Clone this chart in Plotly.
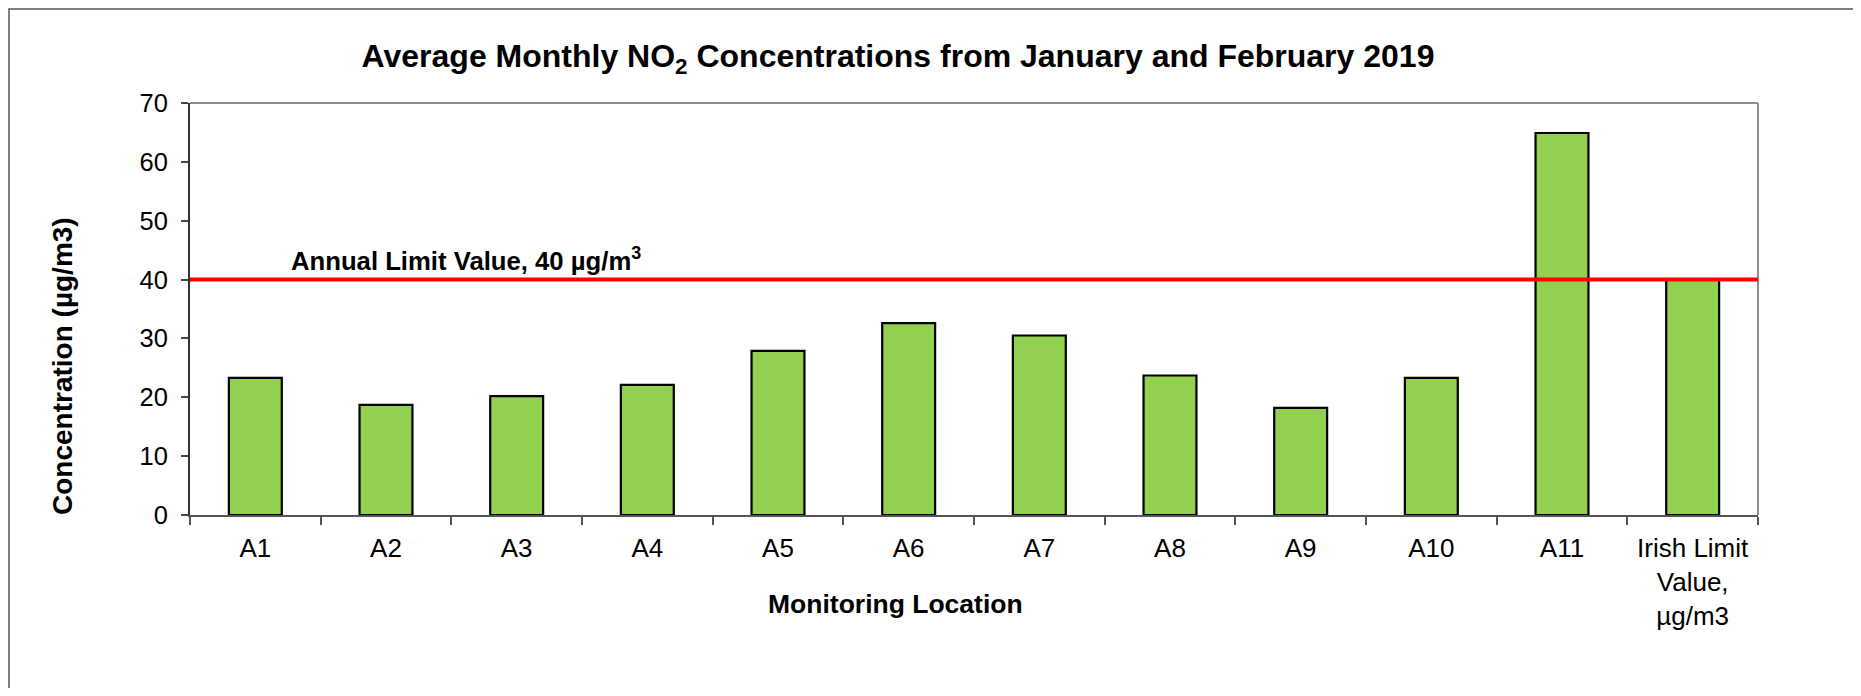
import plotly.graph_objects as go

categories = ["A1", "A2", "A3", "A4", "A5", "A6", "A7", "A8", "A9", "A10", "A11", "Irish Limit Value"]
tick_labels = ["A1", "A2", "A3", "A4", "A5", "A6", "A7", "A8", "A9", "A10", "A11",
               "Irish Limit<br>Value,<br>µg/m3"]
no2_values = [23.3, 18.7, 20.2, 22.1, 27.9, 32.6, 30.5, 23.7, 18.2, 23.3, 64.9, 40.0]
annual_limit = 40
y_ticks = [0, 10, 20, 30, 40, 50, 60, 70]

# The page body has an 8px margin, so the figure is drawn 8px in from the window edge.
OFF = 8
W, H = 1861 - 2 * OFF, 696 - 2 * OFF
L, R, T, B = 190 - OFF, 1758 - OFF, 103 - OFF, 515 - OFF  # plot area in figure pixels
pw, ph = R - L, B - T


def px_x(x):
    return (x - OFF - L) / pw


def px_y(y):
    return (B - (y - OFF)) / ph


FONT = "Liberation Sans, Arial, sans-serif"

fig = go.Figure()
fig.add_trace(go.Bar(
    x=categories, y=no2_values,
    marker=dict(color="#92D050", line=dict(color="#000000", width=2.2)),
    showlegend=False, hoverinfo="x+y",
))

fig.update_layout(
    width=W, height=H,
    margin=dict(l=L, r=W - R, t=T, b=H - B, pad=0),
    paper_bgcolor="white", plot_bgcolor="white",
    bargap=0.595,
    font=dict(family=FONT, color="#000000", size=26),
    title=dict(
        text="<b>Average Monthly NO<sub>2</sub> Concentrations from January and February 2019</b>",
        xref="container", yref="container",
        x=(898 - OFF) / W, xanchor="center", y=1 - (56 - OFF) / H, yanchor="middle",
        font=dict(family=FONT, size=32, color="#000000"),
    ),
    xaxis=dict(
        type="category", tickvals=categories, ticktext=tick_labels,
        tickson="boundaries", ticks="outside", ticklen=8, tickcolor="#555555",
        tickwidth=1.5, showline=True, linecolor="#555555", linewidth=2,
        showgrid=False, zeroline=False, tickfont=dict(size=26, color="#000000"),
        ticklabelstandoff=9,
        range=[-0.5, len(categories) - 0.5],
    ),
    yaxis=dict(
        range=[0, 70], tickvals=y_ticks, ticks="outside", ticklen=7,
        tickcolor="#444444", tickwidth=1.5, showline=True, linecolor="#333333",
        linewidth=2, showgrid=False, zeroline=False,
        tickfont=dict(size=25.5, color="#000000"),
        ticklabelstandoff=8,
    ),
)

shapes = [
    # plot area top and right border
    dict(type="line", xref="paper", yref="paper", x0=0, x1=1, y0=1, y1=1,
         line=dict(color="#8c8c8c", width=2)),
    dict(type="line", xref="paper", yref="paper", x0=1, x1=1, y0=0, y1=1,
         line=dict(color="#8c8c8c", width=2)),
    # annual limit line
    dict(type="line", xref="paper", yref="y", x0=0, x1=1, y0=annual_limit, y1=annual_limit,
         line=dict(color="#FF0000", width=4), layer="above"),
    # outer chart frame (left and top edges visible)
    dict(type="rect", xref="paper", yref="paper",
         x0=px_x(9), x1=px_x(1900), y0=px_y(740), y1=px_y(9),
         line=dict(color="#555555", width=1.5), fillcolor="rgba(0,0,0,0)"),
]
fig.update_layout(shapes=shapes)

fig.add_annotation(
    text="<b>Annual Limit Value, 40 µg/m<sup>3</sup></b>",
    xref="paper", yref="paper", x=px_x(289), y=px_y(259),
    xanchor="left", yanchor="middle", showarrow=False,
    font=dict(family=FONT, size=25.7, color="#000000"),
)
fig.add_annotation(
    text="<b>Monitoring Location</b>",
    xref="paper", yref="paper", x=px_x(895), y=px_y(604),
    xanchor="center", yanchor="middle", showarrow=False,
    font=dict(family=FONT, size=26.5, color="#000000"),
)
fig.add_annotation(
    text="<b>Concentration (µg/m3)</b>",
    xref="paper", yref="paper", x=px_x(62), y=px_y(366),
    xanchor="center", yanchor="middle", textangle=-90, showarrow=False,
    font=dict(family=FONT, size=28, color="#000000"),
)

fig.write_html("out.html")
